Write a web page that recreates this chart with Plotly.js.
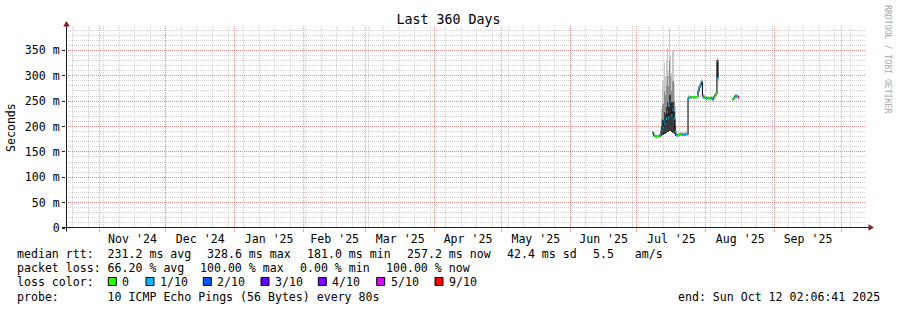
<!DOCTYPE html>
<html><head><meta charset="utf-8">
<script src="https://cdn.plot.ly/plotly-3.0.1.min.js"></script>
<style>html,body{margin:0;padding:0;background:#fff;}#chart{width:897px;height:310px;}</style>
</head><body><div id="chart"></div>
<script>
// ---------------- data ----------------
const startTime = "2024-10-17 02:06:41";
const endTime   = "2025-10-12 02:06:41";

const times = [
"2025-07-08 00:00","2025-07-08 12:00","2025-07-09 00:00","2025-07-09 12:00","2025-07-10 00:00","2025-07-10 12:00",
"2025-07-11 00:00","2025-07-11 12:00","2025-07-12 00:00","2025-07-12 12:00","2025-07-13 00:00","2025-07-13 12:00",
"2025-07-14 00:00","2025-07-14 12:00","2025-07-15 00:00","2025-07-15 12:00","2025-07-16 00:00","2025-07-16 12:00",
"2025-07-17 00:00","2025-07-17 12:00","2025-07-18 00:00","2025-07-18 12:00","2025-07-19 00:00","2025-07-19 12:00",
"2025-07-20 00:00","2025-07-20 12:00","2025-07-21 00:00","2025-07-21 12:00","2025-07-22 00:00","2025-07-22 12:00",
"2025-07-23 00:00","2025-07-23 12:00","2025-07-24 00:00","2025-07-24 12:00","2025-07-25 00:00","2025-07-25 12:00",
"2025-07-26 00:00","2025-07-26 12:00","2025-07-27 00:00","2025-07-27 12:00","2025-07-28 00:00","2025-07-28 12:00",
"2025-07-29 00:00","2025-07-29 12:00","2025-07-30 00:00","2025-07-30 12:00","2025-07-31 00:00","2025-07-31 12:00",
"2025-08-01 00:00","2025-08-01 12:00","2025-08-02 00:00","2025-08-02 12:00","2025-08-03 00:00","2025-08-03 12:00",
"2025-08-04 00:00","2025-08-04 12:00","2025-08-05 00:00","2025-08-05 12:00","2025-08-06 00:00","2025-08-06 12:00",
"2025-08-07 00:00",
"2025-08-13 00:00","2025-08-13 12:00","2025-08-14 00:00","2025-08-14 12:00","2025-08-15 00:00","2025-08-15 12:00"
];
// median rtt (ms)
const median = [
188,182,181,180,180,181,182,
185,192,198,210,205,215,228,218,240,248,222,232,215,190,
183,182,183,185,185,184,184,184,184,185,185,
256,258,258,258,258,258,258,258,259,270,278,282,288,260,258,257,255,257,256,255,257,256,254,258,262,265,330,296,
null,
254,256,260,261,259,258
];
// lost pings out of 10
const loss = [
1,0,0,0,0,0,0,
1,1,1,1,1,1,1,1,1,1,1,1,1,1,
1,1,0,0,0,1,1,1,1,1,1,
1,1,0,0,0,0,0,0,0,1,1,1,1,1,0,0,1,0,0,1,0,0,1,0,0,0,1,1,
null,
0,0,1,1,0,9
];
// smoke (ms)
const smokeLo = [
184,179,178,177,177,178,179,
180,182,183,185,186,188,190,190,192,192,190,188,185,182,
180,179,180,182,182,181,181,181,181,182,182,
252,254,255,255,255,255,255,255,256,262,270,275,280,255,255,254,252,254,253,252,254,253,251,255,258,260,300,285,
null,
251,253,256,257,255,254
];
const smokeHi = [
192,186,185,184,184,185,186,
200,235,290,325,300,330,355,310,395,340,305,350,285,240,
188,187,188,190,190,189,189,189,189,190,190,
262,262,261,261,261,261,261,261,263,276,284,288,295,265,262,261,259,261,260,259,261,260,258,262,266,270,336,305,
null,
257,259,264,265,263,262
];
const smokeMid = [
null,null,null,null,null,null,null,
192,215,245,270,262,280,300,280,330,300,270,290,250,215,
null,null,null,null,null,null,null,null,null,null,null,
null,null,null,null,null,null,null,null,null,null,null,null,null,null,null,null,null,null,null,null,null,null,null,null,null,null,null,null,
null,
null,null,null,null,null,null
];
const smokeDark = [
null,null,null,null,null,null,null,
188,200,212,228,225,238,248,240,262,262,242,248,228,200,
null,null,null,null,null,null,null,null,null,null,null,
null,null,null,null,null,null,null,null,null,null,null,null,null,null,null,null,null,null,null,null,null,null,null,null,null,null,null,null,
null,
null,null,null,null,null,null
];

const firstMonth = "2024-11-01";
const monthFormat = "%b '%y";
const firstWeek = "2024-10-20";

const yTickVals = [0,50,100,150,200,250,300,350];
const yTickText = ["0","50 m","100 m","150 m","200 m","250 m","300 m","350 m"];

const lossLevels = [0,1,2,3,4,5,9];
const lossNames  = ["0","1/10","2/10","3/10","4/10","5/10","9/10"];
const lossColors = ["#26ff00","#00b8ff","#0059ff","#5e00ff","#7e00ff","#dd00ff","#ff0000"];

const legendRtt  = ["median rtt:  231.2 ms avg","328.6 ms max","181.0 ms min","257.2 ms now","42.4 ms sd","5.5   am/s"];
const legendLoss = ["packet loss: 66.20 % avg","100.00 % max","0.00 % min","100.00 % now"];
const legendColorLabel = "loss color:";
const legendProbe = "probe:       10 ICMP Echo Pings (56 Bytes) every 80s";
const endText = "end: Sun Oct 12 02:06:41 2025";
const chartTitle = "Last 360 Days";
const yTitle = "Seconds";
const watermark = "RRDTOOL / TOBI OETIKER";

// ---------------- helpers ----------------
function T(s){
  if (s.length === 10) s += " 00:00:00";
  else if (s.length === 16) s += ":00";
  return Date.parse(s.replace(" ","T") + "Z");
}
const DAY = 86400000, STEP = DAY/2;
const L = 66, R = 866, TOP = 26, BOT = 228, W = R-L, H = BOT-TOP;
const px = x => (x-L)/W, py = y => (BOT-y)/H;
const nb = s => s.replace(/ /g, "\u00a0");
const FONT = "DejaVu Sans Mono, monospace";
const CW = 6.98;              // monospace advance in px
const FS = CW/0.60205;        // font size giving that advance
const GAP = 16.2;             // gap between legend elements in px

const tms = times.map(T);
const xRange = [T(startTime), T(endTime)];
const weekVals = [];
for (let t = T(firstWeek); t <= xRange[1]; t += 7*DAY) weekVals.push(t);

function colorIdx(l){ let k = 0; lossLevels.forEach((lv,i)=>{ if (l >= lv) k = i; }); return k; }

// ---------------- traces ----------------
const traces = [];
function smokeTrace(top, color){
  const x=[], base=[], y=[];
  tms.forEach((t,i)=>{
    if (top[i]==null || smokeLo[i]==null) return;
    x.push(t + STEP/2); base.push(smokeLo[i]); y.push(top[i]-smokeLo[i]);
  });
  return {type:"bar", x, y, base, width:STEP, marker:{color, line:{width:0}}, hoverinfo:"skip", showlegend:false};
}
traces.push(smokeTrace(smokeHi, "#c9c9c9"));
traces.push(smokeTrace(smokeMid, "#8e8e8e"));
traces.push(smokeTrace(smokeDark, "#3a3a3a"));

traces.push({type:"scatter", mode:"lines", x:tms, y:median, connectgaps:false,
  line:{shape:"hv", color:"#1e1e1e", width:1.2}, hoverinfo:"skip", showlegend:false});

lossLevels.forEach((lv,k)=>{
  const x=[], y=[];
  tms.forEach((t,i)=>{
    if (median[i]==null || colorIdx(loss[i])!==k) return;
    x.push(t, t+STEP, null); y.push(median[i], median[i], null);
  });
  traces.push({type:"scatter", mode:"lines", x, y, line:{color:lossColors[k], width:2.2},
    hoverinfo:"skip", showlegend:false});
});

// ---------------- layout ----------------
const gridMinor = "rgba(143,143,143,0.42)";
const gridMajor = "rgba(222,79,79,0.55)";
const axisCol = "#1f1f1f", arrowCol = "#801f1f";

const shapes = [
  {type:"line", xref:"paper", yref:"paper", x0:px(62), x1:px(869), y0:py(227.5), y1:py(227.5), line:{color:axisCol, width:1}},
  {type:"line", xref:"paper", yref:"paper", x0:px(66.5), x1:px(66.5), y0:py(231.5), y1:py(25), line:{color:axisCol, width:1}},
  {type:"path", xref:"paper", yref:"paper", fillcolor:arrowCol, line:{width:0},
   path:`M ${px(66.5)} ${py(21)} L ${px(63.2)} ${py(26.5)} L ${px(69.8)} ${py(26.5)} Z`},
  {type:"path", xref:"paper", yref:"paper", fillcolor:arrowCol, line:{width:0},
   path:`M ${px(874)} ${py(227.5)} L ${px(868.5)} ${py(224.2)} L ${px(868.5)} ${py(230.8)} Z`}
];

function txt(s, x, y, anchor){
  return {text:nb(s), xref:"paper", yref:"paper", x:px(x), y:py(y), showarrow:false, xanchor:anchor||"left",
          yanchor:"middle", borderpad:0, font:{family:FONT, size:FS, color:"#000"}};
}
const annotations = [
  {text:nb(yTitle), xref:"paper", yref:"paper", x:px(10.5), y:py(127.5), textangle:-90, showarrow:false,
   xanchor:"center", yanchor:"middle", font:{family:FONT, size:FS, color:"#000"}},
  {text:nb(watermark), xref:"paper", yref:"paper", x:px(888), y:py(59), textangle:90, showarrow:false,
   xanchor:"center", yanchor:"middle", font:{family:FONT, size:8.2, color:"#a8a8a8"}}
];
function legendRow(items, y){
  let x = 15.5;
  items.forEach(s=>{ annotations.push(txt(s, x, y)); x += s.length*CW + GAP; });
}
legendRow(legendRtt, 254);
legendRow(legendLoss, 268.3);
annotations.push(txt(legendColorLabel, 15.5, 282.3));
annotations.push(txt(legendProbe, 15.5, 296.6));
annotations.push(txt(endText, 881.5, 296.6, "right"));

const boxLeft = [108.3, 146, 203.3, 261, 318.3, 376.7, 435];
lossNames.forEach((nm,k)=>{
  shapes.push({type:"rect", xref:"paper", yref:"paper", x0:px(boxLeft[k]), x1:px(boxLeft[k]+8), y0:py(285.5), y1:py(277.5),
    fillcolor:lossColors[k], line:{color:"#000", width:1}});
  annotations.push(txt(nm, boxLeft[k]+13.1, 282.3));
});

const layout = {
  width:897, height:310,
  margin:{l:L, r:897-R, t:TOP, b:310-BOT, pad:0},
  paper_bgcolor:"#ffffff", plot_bgcolor:"#ffffff",
  font:{family:FONT, size:FS, color:"#000"},
  showlegend:false, barmode:"overlay", bargap:0,
  title:{text:chartTitle, font:{family:FONT, size:13.3, color:"#000"}, x:0.5, xref:"container", xanchor:"center",
         y:1-19.5/310, yref:"container", yanchor:"middle"},
  xaxis:{type:"date", range:xRange, tickmode:"linear", tick0:firstMonth, dtick:"M1", tickformat:monthFormat,
         ticklabelmode:"period", ticklabelstandoff:-3,
         showgrid:true, gridcolor:gridMajor, griddash:"1px,1px", gridwidth:1,
         zeroline:false, showline:false, ticks:"outside", ticklen:3, tickcolor:gridMajor, fixedrange:true,
         tickfont:{family:FONT, size:FS, color:"#000"},
         minor:{tickmode:"array", tickvals:weekVals, showgrid:true, gridcolor:gridMinor, griddash:"1px,1px", gridwidth:1, ticks:""}},
  yaxis:{range:[0,398], tickmode:"array", tickvals:yTickVals, ticktext:yTickText, showgrid:true, gridcolor:gridMajor,
         griddash:"1px,1px", gridwidth:1, zeroline:false, showline:false, ticks:"outside", ticklen:3, tickcolor:axisCol,
         tickfont:{family:FONT, size:FS, color:"#000"}, fixedrange:true,
         minor:{dtick:10, showgrid:true, gridcolor:gridMinor, griddash:"1px,1px", gridwidth:1, ticks:""}},
  shapes, annotations
};

Plotly.newPlot("chart", traces, layout, {displayModeBar:false, staticPlot:true});
</script></body></html>
